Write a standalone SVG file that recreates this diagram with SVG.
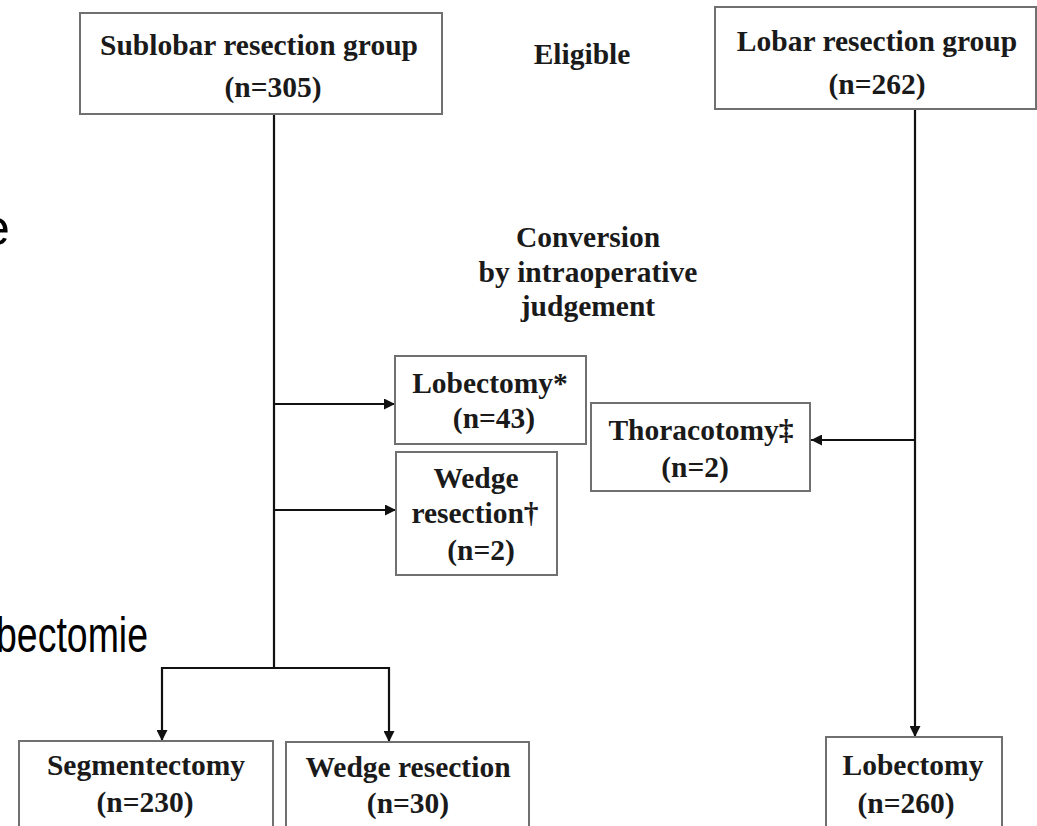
<svg xmlns="http://www.w3.org/2000/svg" width="1037" height="826" viewBox="0 0 1037 826">
<defs>
<style>
.box{fill:#fff;stroke:#707070;stroke-width:2}
.t{font-family:"Liberation Serif","Times New Roman",serif;font-weight:bold;font-size:29.5px;fill:#1a1a1a;text-anchor:middle}
.bg{font-family:"Liberation Sans Narrow","Liberation Sans",Arial,sans-serif;font-size:50px;fill:#000}
.ln{fill:none;stroke:#111;stroke-width:2.2}
</style>
<marker id="ah" viewBox="0 0 10 10" refX="10" refY="5" markerWidth="5" markerHeight="5" orient="auto" markerUnits="strokeWidth">
<path d="M0,0 L10,5 L0,10 z" fill="#111"/>
</marker>
</defs>
<rect width="1037" height="826" fill="#fff"/>
<text class="bg" x="-18" y="245" font-size="52">e</text>
<text class="bg" x="-4" y="652" textLength="152" lengthAdjust="spacingAndGlyphs">bectomie</text>

<g id="connectors">
<path class="ln" d="M274,114 V668"/>
<path class="ln" d="M274,404 H395" marker-end="url(#ah)"/>
<path class="ln" d="M274,510 H396" marker-end="url(#ah)"/>
<path class="ln" d="M162,668 H389"/>
<path class="ln" d="M162,667 V741" marker-end="url(#ah)"/>
<path class="ln" d="M389,667 V742" marker-end="url(#ah)"/>
<path class="ln" d="M915,109 V737" marker-end="url(#ah)"/>
<path class="ln" d="M915,440 H811" marker-end="url(#ah)"/>
</g>

<g id="sublobar">
<rect class="box" x="80" y="13" width="362" height="101"/>
<text class="t" x="259" y="55">Sublobar resection group</text>
<text class="t" x="273" y="97">(n=305)</text>
</g>
<g id="eligible">
<text class="t" x="582" y="64">Eligible</text>
</g>
<g id="lobar">
<rect class="box" x="715" y="7" width="321" height="102"/>
<text class="t" x="877" y="51">Lobar resection group</text>
<text class="t" x="877" y="94">(n=262)</text>
</g>
<g id="conversion">
<text class="t" x="588" y="247">Conversion</text>
<text class="t" x="588" y="282">by intraoperative</text>
<text class="t" x="588" y="316">judgement</text>
</g>
<g id="lobectomy-conv">
<rect class="box" x="395" y="356" width="191" height="88"/>
<text class="t" x="490" y="393">Lobectomy*</text>
<text class="t" x="494" y="428">(n=43)</text>
</g>
<g id="wedge-conv">
<rect class="box" x="396" y="452" width="161" height="123"/>
<text class="t" x="476" y="488">Wedge</text>
<text class="t" x="475" y="523">resection†</text>
<text class="t" x="481" y="560">(n=2)</text>
</g>
<g id="thoracotomy">
<rect class="box" x="591" y="403" width="219" height="88"/>
<text class="t" x="701" y="440">Thoracotomy‡</text>
<text class="t" x="695" y="477">(n=2)</text>
</g>
<g id="segmentectomy">
<rect class="box" x="19" y="741" width="254" height="95"/>
<text class="t" x="146" y="775">Segmentectomy</text>
<text class="t" x="145" y="812">(n=230)</text>
</g>
<g id="wedge">
<rect class="box" x="286" y="742" width="243" height="95"/>
<text class="t" x="408" y="777">Wedge resection</text>
<text class="t" x="408" y="813">(n=30)</text>
</g>
<g id="lobectomy">
<rect class="box" x="826" y="737" width="176" height="100"/>
<text class="t" x="913" y="775">Lobectomy</text>
<text class="t" x="906" y="813">(n=260)</text>
</g>
</svg>
